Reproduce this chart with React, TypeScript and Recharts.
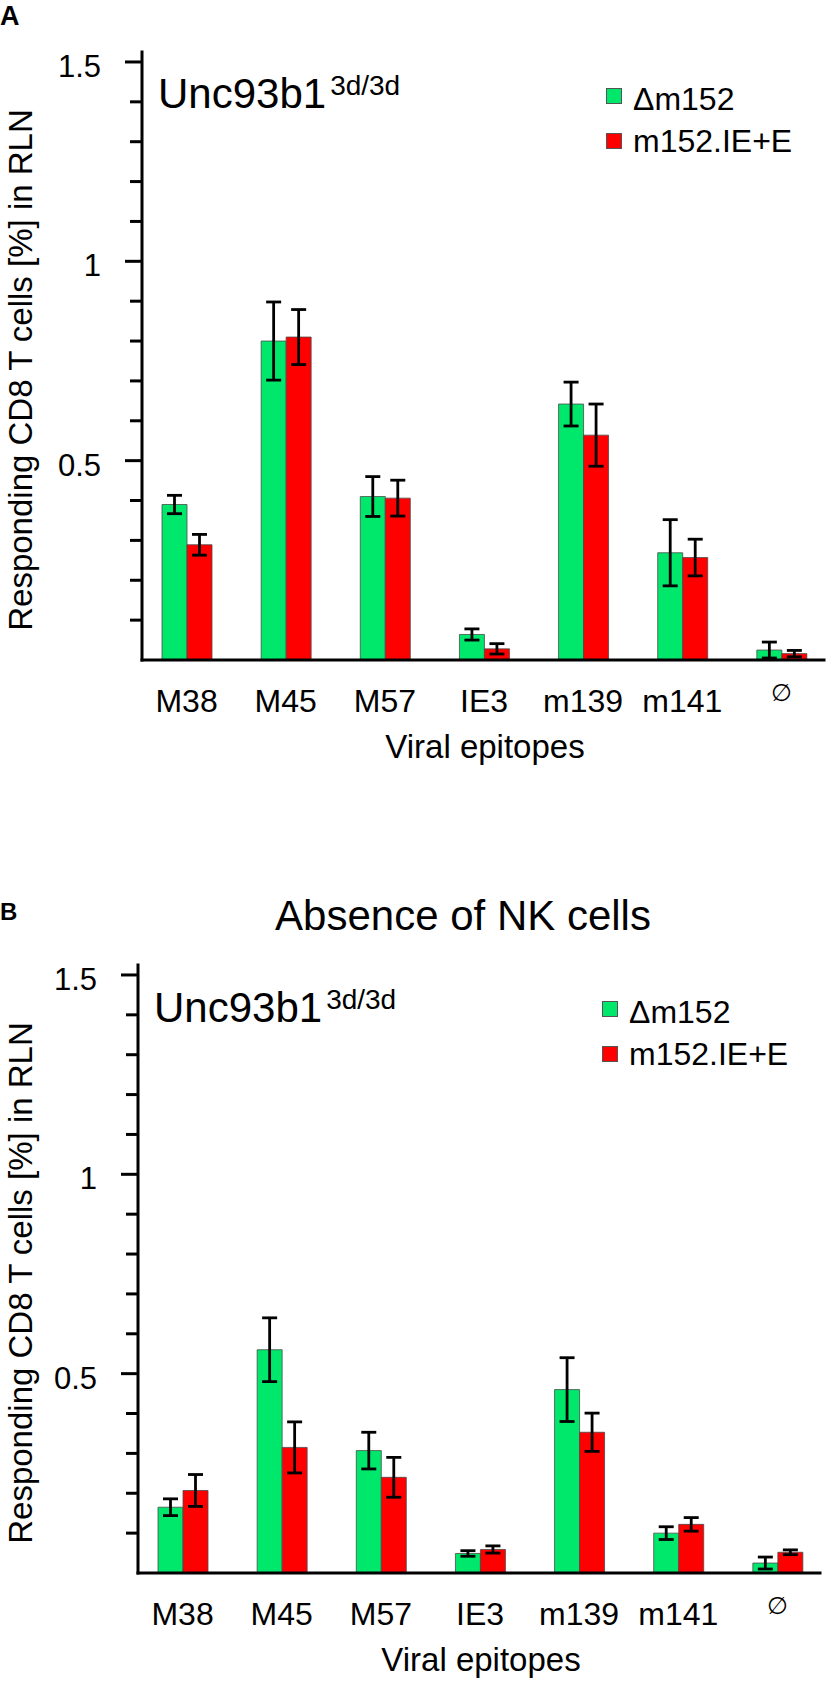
import { BarChart, Bar, XAxis, YAxis, ErrorBar, Legend } from "recharts";

const FONT = '"Liberation Sans", Arial, sans-serif';
const GREEN = "#00E86C";
const RED = "#FF0000";
const Y_MAX = 1.525;

const epitopes = ["M38", "M45", "M57", "IE3", "m139", "m141", "∅"];

// Panel A: Unc93b1 3d/3d
const deltaA = [0.39, 0.8, 0.41, 0.064, 0.642, 0.269, 0.025];
const deltaAErr = [0.023, 0.098, 0.05, 0.014, 0.055, 0.083, 0.02];
const ieA = [0.289, 0.81, 0.406, 0.028, 0.564, 0.257, 0.016];
const ieAErr = [0.026, 0.069, 0.045, 0.013, 0.078, 0.046, 0.008];

// Panel B: absence of NK cells
const deltaB = [0.165, 0.56, 0.307, 0.049, 0.46, 0.1, 0.025];
const deltaBErr = [0.021, 0.08, 0.046, 0.007, 0.08, 0.016, 0.015];
const ieB = [0.207, 0.315, 0.24, 0.059, 0.353, 0.122, 0.052];
const ieBErr = [0.04, 0.064, 0.05, 0.009, 0.048, 0.017, 0.006];

const yTicks = [0.1, 0.2, 0.3, 0.4, 0.5, 0.6, 0.7, 0.8, 0.9, 1, 1.1, 1.2, 1.3, 1.4, 1.5];
const yLabels: Record<string, string> = { "0.5": "0.5", "1": "1", "1.5": "1.5" };

const axisStyle = { stroke: "#000", strokeWidth: 3, strokeLinecap: "square" as const };

function buildRows(delta: number[], deltaErr: number[], ie: number[], ieErr: number[]) {
  return epitopes.map((name, i) => ({
    name,
    delta: delta[i],
    deltaErr: deltaErr[i],
    ie: ie[i],
    ieErr: ieErr[i],
  }));
}

function YTick(props: any) {
  const { x, y, payload } = props;
  const label = yLabels[String(payload.value)];
  return (
    <g>
      <line x1={x - (label ? 17 : 12)} x2={x} y1={y} y2={y} stroke="#000" strokeWidth={3} />
      {label && (
        <text x={x - 41} y={y + 15} textAnchor="end" fontSize={31} fontFamily={FONT} fill="#000">
          {label}
        </text>
      )}
    </g>
  );
}

function XTick(props: any) {
  const { x, y, payload } = props;
  if (payload.value === "∅") {
    return (
      <text x={x} y={y + 41} textAnchor="middle" fontSize={24} fontFamily='"DejaVu Sans", sans-serif' fill="#000">
        ∅
      </text>
    );
  }
  return (
    <text x={x} y={y + 52} textAnchor="middle" fontSize={32} fontFamily={FONT} fill="#000">
      {payload.value}
    </text>
  );
}

function XTitle(props: any) {
  const vb = props.viewBox || {};
  return (
    <text x={vb.x + vb.width / 2 + 2} y={vb.y + 98} textAnchor="middle" fontSize={33} fontFamily={FONT} fill="#000">
      Viral epitopes
    </text>
  );
}

function YTitle(props: any) {
  const vb = props.viewBox || {};
  const cy = vb.y + vb.height / 2 + 14;
  return (
    <text
      x={32}
      y={cy}
      transform={`rotate(-90, 32, ${cy})`}
      textAnchor="middle"
      fontSize={33}
      fontFamily={FONT}
      fill="#000"
    >
      Responding CD8 T cells [%] in RLN
    </text>
  );
}

function LegendBox() {
  return (
    <svg width={220} height={82} style={{ display: "block" }}>
      <rect x={6.5} y={8.5} width={15} height={15} fill={GREEN} stroke="#555" />
      <text x={33} y={30} fontSize={32} fontFamily={FONT} fill="#000">
        Δm152
      </text>
      <rect x={6.5} y={53.5} width={15} height={15} fill={RED} stroke="#555" />
      <text x={33} y={72} fontSize={32} fontFamily={FONT} fill="#000">
        m152.IE+E
      </text>
    </svg>
  );
}

interface PanelProps {
  top: number;
  height: number;
  axisLeft: number;
  axisRight: number;
  rows: ReturnType<typeof buildRows>;
}

function Panel({ top, height, axisLeft, axisRight, rows }: PanelProps) {
  return (
    <div style={{ position: "absolute", left: 0, top }}>
      <BarChart
        width={831}
        height={height}
        data={rows}
        margin={{ top: 52, right: 831 - axisRight, bottom: 0, left: 0 }}
        barSize={25}
        barGap={0}
      >
        <XAxis
          dataKey="name"
          height={height - 660}
          padding={{ left: -5, right: -7 }}
          axisLine={axisStyle}
          tickLine={false}
          tickSize={0}
          tickMargin={0}
          tick={<XTick />}
          interval={0}
          label={{ content: XTitle }}
        />
        <XAxis
          xAxisId="top"
          orientation="top"
          dataKey="name"
          height={0}
          tick={false}
          tickLine={false}
          axisLine={axisStyle}
        />
        <YAxis
          width={axisLeft}
          domain={[0, Y_MAX]}
          ticks={yTicks}
          interval={0}
          allowDataOverflow
          axisLine={axisStyle}
          tickLine={false}
          tickSize={0}
          tickMargin={0}
          tick={<YTick />}
          label={{ content: YTitle }}
        />
        <YAxis
          yAxisId="right"
          orientation="right"
          width={0}
          domain={[0, Y_MAX]}
          tick={false}
          tickLine={false}
          axisLine={axisStyle}
        />
        <Legend
          content={LegendBox}
          layout="horizontal"
          align="center"
          verticalAlign="middle"
          wrapperStyle={{ left: axisRight - 224, top: 80, width: 220, height: 82 }}
        />
        <Bar dataKey="delta" fill={GREEN} stroke="#4a4a4a" strokeWidth={0.8} isAnimationActive={false}>
          <ErrorBar dataKey="deltaErr" width={7.5} strokeWidth={2.8} stroke="#000" isAnimationActive={false} />
        </Bar>
        <Bar dataKey="ie" fill={RED} stroke="#4a4a4a" strokeWidth={0.8} isAnimationActive={false}>
          <ErrorBar dataKey="ieErr" width={7.5} strokeWidth={2.8} stroke="#000" isAnimationActive={false} />
        </Bar>
      </BarChart>
    </div>
  );
}

export default function App() {
  const rowsA = buildRows(deltaA, deltaAErr, ieA, ieAErr);
  const rowsB = buildRows(deltaB, deltaBErr, ieB, ieBErr);
  return (
    <div
      style={{
        position: "absolute",
        left: 0,
        top: 0,
        width: 831,
        height: 1685,
        overflow: "hidden",
        background: "#fff",
        fontFamily: FONT,
      }}
    >
      <Panel top={0} height={800} axisLeft={142} axisRight={824} rows={rowsA} />
      <Panel top={913} height={772} axisLeft={138} axisRight={820} rows={rowsB} />
      <svg
        width={831}
        height={1685}
        style={{ position: "absolute", left: 0, top: 0, pointerEvents: "none" }}
      >
        <text x={0} y={25} fontSize={27} fontWeight="bold" fontFamily={FONT} fill="#000">
          A
        </text>
        <text x={158} y={108} fontSize={42} fontFamily={FONT} fill="#000">
          Unc93b1
          <tspan fontSize={28} dx={4} dy={-13}>
            3d/3d
          </tspan>
        </text>
        <text x={0} y={920} fontSize={24} fontWeight="bold" fontFamily={FONT} fill="#000">
          B
        </text>
        <text x={463} y={930} textAnchor="middle" fontSize={42} fontFamily={FONT} fill="#000">
          Absence of NK cells
        </text>
        <text x={154} y={1022} fontSize={42} fontFamily={FONT} fill="#000">
          Unc93b1
          <tspan fontSize={28} dx={4} dy={-13}>
            3d/3d
          </tspan>
        </text>
      </svg>
    </div>
  );
}
